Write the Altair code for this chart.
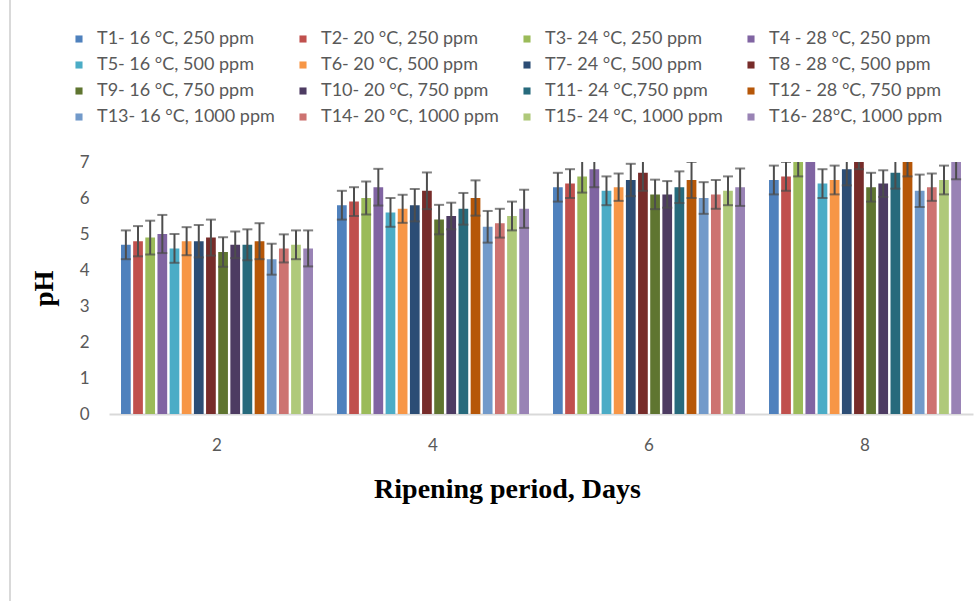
import altair as alt
import pandas as pd

days = ["2", "4", "6", "8"]
treatments = [
    "T1- 16 °C, 250 ppm", "T2- 20 °C, 250 ppm", "T3- 24 °C, 250 ppm", "T4 - 28 °C, 250 ppm",
    "T5- 16 °C, 500 ppm", "T6- 20 °C, 500 ppm", "T7- 24 °C, 500 ppm", "T8 - 28 °C, 500 ppm",
    "T9- 16 °C, 750 ppm", "T10- 20 °C, 750 ppm", "T11- 24 °C,750 ppm", "T12 - 28 °C, 750 ppm",
    "T13- 16 °C, 1000 ppm", "T14- 20 °C, 1000 ppm", "T15- 24 °C, 1000 ppm", "T16- 28°C, 1000 ppm",
]
colors = [
    "#4F81BD", "#C0504D", "#9BBB59", "#8064A2",
    "#4BACC6", "#F79646", "#2C4D75", "#772C2A",
    "#5F7530", "#4D3B62", "#276A7C", "#B65708",
    "#729ACA", "#CD7371", "#AFC97A", "#9983B5",
]

ph_day2 = [4.7, 4.8, 4.9, 5.0, 4.6, 4.8, 4.8, 4.9, 4.5, 4.7, 4.7, 4.8, 4.3, 4.6, 4.7, 4.6]
ph_day4 = [5.8, 5.9, 6.0, 6.3, 5.6, 5.7, 5.8, 6.2, 5.4, 5.5, 5.7, 6.0, 5.2, 5.3, 5.5, 5.7]
ph_day6 = [6.3, 6.4, 6.6, 6.8, 6.2, 6.3, 6.5, 6.7, 6.1, 6.1, 6.3, 6.5, 6.0, 6.1, 6.2, 6.3]
ph_day8 = [6.5, 6.6, 7.1, 7.6, 6.4, 6.5, 6.8, 7.3, 6.3, 6.4, 6.7, 7.1, 6.2, 6.3, 6.5, 7.05]

err_day2 = [0.40, 0.42, 0.47, 0.53, 0.40, 0.39, 0.45, 0.50, 0.41, 0.37, 0.43, 0.50, 0.43, 0.39, 0.40, 0.50]
err_day4 = [0.40, 0.40, 0.46, 0.51, 0.40, 0.39, 0.45, 0.51, 0.41, 0.37, 0.44, 0.49, 0.44, 0.40, 0.40, 0.53]
err_day6 = [0.40, 0.40, 0.45, 0.50, 0.40, 0.38, 0.45, 0.50, 0.41, 0.37, 0.44, 0.50, 0.44, 0.40, 0.40, 0.52]
err_day8 = [0.40, 0.40, 0.50, 0.50, 0.40, 0.40, 0.45, 0.50, 0.40, 0.37, 0.44, 0.50, 0.45, 0.38, 0.40, 0.53]

rows = []
for d, vals, errs in zip(days, [ph_day2, ph_day4, ph_day6, ph_day8],
                         [err_day2, err_day4, err_day6, err_day8]):
    for t, v, e in zip(treatments, vals, errs):
        rows.append({"day": d, "treatment": t, "ph": v, "lo": v - e, "hi": v + e})
df = pd.DataFrame(rows)

label_font = "Lato"
gray = "#595959"
err_color = "#4D4D4D"

x_scale = alt.Scale(paddingInner=0.1, paddingOuter=0.05)
xo_scale = alt.Scale(paddingInner=0.2, paddingOuter=0.1)
y_scale = alt.Scale(domain=[0, 7], nice=False)

x_axis = alt.Axis(title="Ripening period, Days", labelAngle=0, ticks=False,
                  labelPadding=23, labelFont=label_font, labelFontSize=17,
                  labelColor=gray, domainColor="#D9D9D9", domainWidth=2,
                  titleFont="Liberation Serif", titleFontSize=28,
                  titleFontWeight="bold", titleColor="black",
                  titleX=398, titleY=61, titleAlign="center")
y_axis = alt.Axis(title="pH", values=[0, 1, 2, 3, 4, 5, 6, 7], grid=False,
                  ticks=False, domain=False, labelPadding=20, labelOverlap=False,
                  labelFont=label_font, labelFontSize=17, labelColor=gray,
                  titleFont="Liberation Serif", titleFontSize=27,
                  titleFontWeight="bold", titleColor="black", titlePadding=21)


def ex():
    return alt.X("day:N", sort=days, scale=x_scale, axis=x_axis)


def exo():
    return alt.XOffset("treatment:N", sort=treatments, scale=xo_scale)


bars = alt.Chart(df).mark_bar(clip=True).encode(
    x=ex(),
    xOffset=exo(),
    y=alt.Y("ph:Q", scale=y_scale, axis=y_axis),
    color=alt.Color("treatment:N", sort=treatments,
                    scale=alt.Scale(domain=treatments, range=colors),
                    legend=alt.Legend(title=None, orient="none", legendX=-39, legendY=-132,
                                      direction="horizontal", columns=4, gridAlign="all",
                                      columnPadding=19, rowPadding=8,
                                      symbolType="square", symbolSize=50,
                                      symbolStrokeWidth=0, labelFont=label_font,
                                      labelFontSize=18, labelColor=gray, labelLimit=300,
                                      labelOffset=9)),
)

err_rules = alt.Chart(df).mark_rule(clip=True, color=err_color, strokeWidth=2).encode(
    x=ex(), xOffset=exo(),
    y=alt.Y("lo:Q", scale=y_scale, axis=y_axis), y2="hi:Q",
)
cap_hi = alt.Chart(df).mark_tick(clip=True, color=err_color, thickness=2, size=10,
                                 orient="horizontal").encode(
    x=ex(), xOffset=exo(),
    y=alt.Y("hi:Q", scale=y_scale, axis=y_axis),
)
cap_lo = alt.Chart(df).mark_tick(clip=True, color=err_color, thickness=2, size=10,
                                 orient="horizontal").encode(
    x=ex(), xOffset=exo(),
    y=alt.Y("lo:Q", scale=y_scale, axis=y_axis),
)
frame = alt.Chart(df).mark_rule(color="#D9D9D9", strokeWidth=2).encode(
    x=alt.value(-99), y=alt.value(-162), y2=alt.value(439)
)

chart = alt.layer(bars, err_rules, cap_hi, cap_lo, frame).properties(
    width=864, height=252,
    autosize=alt.AutoSizeParams(type="none"),
    padding={"left": 109, "top": 162, "right": 1, "bottom": 187},
).configure(background="white").configure_view(stroke=None)

chart.save("out.html", embed_options={"renderer": "svg", "actions": False})
